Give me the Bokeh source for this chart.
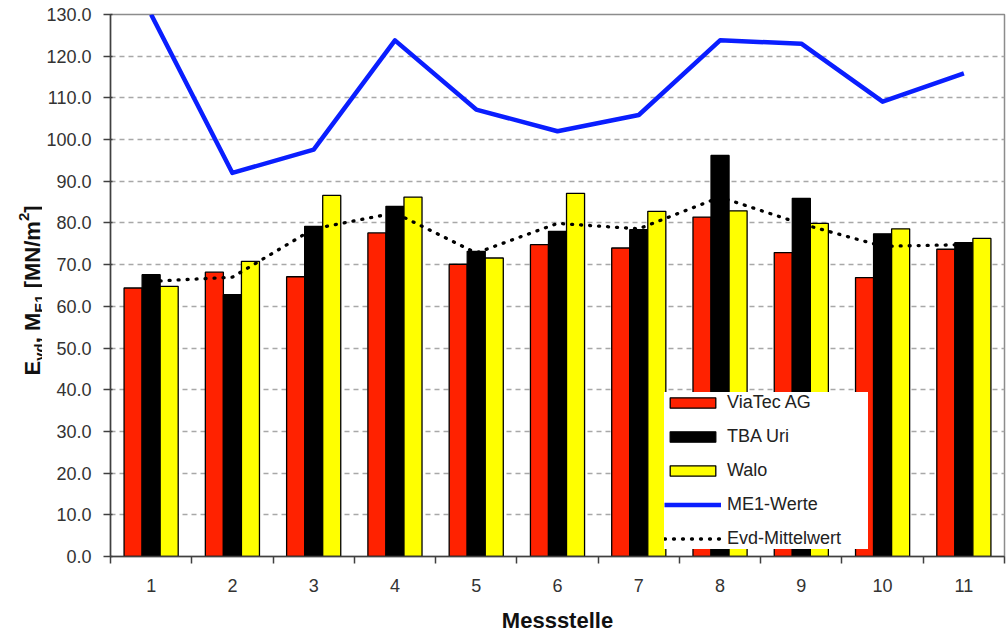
import math

from bokeh.core.properties import value
from bokeh.embed import file_html
from bokeh.layouts import row
from bokeh.models import (ColumnDataSource, FixedTicker, Legend, LegendItem,
                          NumeralTickFormatter, Range1d)
from bokeh.plotting import figure
from bokeh.resources import INLINE
from bokeh.transform import dodge

# Messstellen 1..11
messstellen = [1, 2, 3, 4, 5, 6, 7, 8, 9, 10, 11]
tick_labels = ["1", "2", "3", "4", "5", "6", "7", "8", "9", "10", "11"]

# Evd values per firm [MN/m2]
viatec = [64.4, 68.2, 67.1, 77.6, 70.1, 74.8, 74.0, 81.4, 72.9, 66.9, 73.7]
tba_uri = [67.6, 62.8, 79.2, 84.0, 73.2, 78.0, 78.4, 96.2, 85.9, 77.4, 75.3]
walo = [64.8, 70.8, 86.6, 86.2, 71.6, 87.1, 82.8, 82.9, 79.9, 78.6, 76.3]

# ME1 values and Evd mean
me1_werte = [130.0, 92.0, 97.6, 123.8, 107.2, 102.0, 105.9, 123.8, 123.0, 109.1, 115.9]
evd_mittel = [66.0, 67.0, 78.6, 82.4, 72.8, 79.9, 78.6, 86.2, 79.8, 74.4, 74.8]

y_ticks = [0, 10, 20, 30, 40, 50, 60, 70, 80, 90, 100, 110, 120, 130]

FONT = "Liberation Sans"
AXIS_DARK = "#404040"

W, H = 1006, 636
TITLE_W = 42                      # strip holding the rotated y axis title
LEFT, RIGHT, TOP, BOTTOM = 110 - TITLE_W, 2, 14, 80

p = figure(width=W - TITLE_W, height=H, output_backend="svg", toolbar_location=None,
           x_range=Range1d(0.5, 11.5), y_range=Range1d(0, 130),
           min_border_left=LEFT, min_border_right=RIGHT,
           min_border_top=TOP, min_border_bottom=BOTTOM)
p.background_fill_color = "white"
p.border_fill_color = "white"
p.outline_line_color = "#8c8c8c"
p.outline_line_width = 1.5

src = ColumnDataSource(dict(x=messstellen, viatec=viatec, tba=tba_uri, walo=walo,
                            me1=me1_werte, evd=evd_mittel))

bw = 0.222
r_via = p.vbar(x=dodge("x", -bw, range=p.x_range), top="viatec", bottom=0, width=bw,
               source=src, fill_color="#ff2200", line_color="black", line_width=1.3)
r_tba = p.vbar(x="x", top="tba", bottom=0, width=bw, source=src,
               fill_color="black", line_color="black", line_width=1.3)
r_walo = p.vbar(x=dodge("x", bw, range=p.x_range), top="walo", bottom=0, width=bw,
                source=src, fill_color="#ffff00", line_color="black", line_width=1.3)

r_evd = p.line("x", "evd", source=src, line_color="black", line_width=3.3,
               line_dash="1 8", line_cap="round")
r_me1 = p.line("x", "me1", source=src, line_color="#0a1eff", line_width=4.5,
               line_join="round")

# x axis: labels at the centres, ticks between the groups
p.xaxis.ticker = FixedTicker(ticks=messstellen,
                             minor_ticks=[m - 0.5 for m in messstellen] + [11.5])
p.xaxis.major_label_overrides = {m: t for m, t in zip(messstellen, tick_labels)}
p.xaxis.major_tick_line_color = None
p.xaxis.major_tick_out = 7
p.xaxis.major_tick_in = 0
p.xaxis.minor_tick_out = 7
p.xaxis.minor_tick_in = 0
p.xaxis.minor_tick_line_color = AXIS_DARK
p.xaxis.minor_tick_line_width = 1.5
p.xaxis.axis_line_color = AXIS_DARK
p.xaxis.axis_line_width = 1.5
p.xaxis.major_label_text_font = FONT
p.xaxis.major_label_text_font_size = "18px"
p.xaxis.major_label_text_color = "#333333"
p.xaxis.major_label_standoff = 15
p.xaxis.axis_label = "Messstelle"
p.xaxis.axis_label_text_font = FONT
p.xaxis.axis_label_text_font_size = "22px"
p.xaxis.axis_label_text_font_style = "bold"
p.xaxis.axis_label_text_color = "#111111"
p.xaxis.axis_label_standoff = 13

# y axis
p.yaxis.ticker = FixedTicker(ticks=y_ticks)
p.yaxis.formatter = NumeralTickFormatter(format="0.0")
p.yaxis.major_tick_out = 7
p.yaxis.major_tick_in = 2
p.yaxis.major_tick_line_color = AXIS_DARK
p.yaxis.major_tick_line_width = 1.5
p.yaxis.minor_tick_line_color = None
p.yaxis.axis_line_color = AXIS_DARK
p.yaxis.axis_line_width = 1.5
p.yaxis.major_label_text_font = FONT
p.yaxis.major_label_text_font_size = "18px"
p.yaxis.major_label_text_color = "#333333"
p.yaxis.major_label_standoff = 12

p.xgrid.visible = False
p.ygrid.grid_line_color = "#a8a8a8"
p.ygrid.grid_line_width = 1.5
p.ygrid.grid_line_dash = "5 4"

# legend
legend = Legend(items=[
    LegendItem(label="ViaTec AG", renderers=[r_via]),
    LegendItem(label="TBA Uri", renderers=[r_tba]),
    LegendItem(label="Walo", renderers=[r_walo]),
    LegendItem(label="ME1-Werte", renderers=[r_me1]),
    LegendItem(label="Evd-Mittelwert", renderers=[r_evd]),
], location=(554, 7))
legend.border_line_color = None
legend.background_fill_color = "white"
legend.background_fill_alpha = 1.0
legend.padding = 8
legend.margin = 0
legend.spacing = 13
legend.glyph_width = 57
legend.glyph_height = 13
legend.label_height = 21
legend.label_width = 141
legend.label_standoff = 6
legend.label_text_font = FONT
legend.label_text_font_size = "18px"
legend.label_text_color = "#222222"
p.add_layout(legend)

# y axis title with sub- and superscripts, laid out as rotated pieces in a
# narrow strip; its frame lines up with the main frame and one data unit is
# one pixel (y measured from the top of the page)
t = figure(width=TITLE_W, height=H, output_backend="svg", toolbar_location=None,
           x_range=Range1d(0, TITLE_W), y_range=Range1d(BOTTOM, H - TOP),
           x_axis_location=None, y_axis_location=None,
           min_border_left=0, min_border_right=0,
           min_border_top=TOP, min_border_bottom=BOTTOM)
t.grid.visible = False
t.outline_line_color = None
t.background_fill_color = "white"
t.border_fill_color = "white"

BOLD_WIDTHS = {"E": 0.667, "v": 0.556, "d": 0.611, ",": 0.278, " ": 0.278, "M": 0.833,
               "1": 0.556, "[": 0.333, "N": 0.722, "/": 0.278, "m": 0.889, "2": 0.556,
               "]": 0.333}
MAIN_SIZE, SMALL_SIZE = 22, 15
title_parts = [("E", "main"), ("vd", "sub"), (", M", "main"), ("E1", "sub"),
               (" [MN/m", "main"), ("2", "sup"), ("]", "main")]
baseline_x = {"main": 32, "sub": 39, "sup": 23}   # x of each baseline
start_y = 375                                      # y (from top) where the title begins

y_pos = start_y
for text, kind in title_parts:
    size = MAIN_SIZE if kind == "main" else SMALL_SIZE
    # leading blanks are not drawn by the svg text, so step over them here
    drawn = text.lstrip(" ")
    y_pos -= (len(text) - len(drawn)) * BOLD_WIDTHS[" "] * size
    t.text(x=[baseline_x[kind]], y=[H - y_pos], text=[drawn], angle=math.pi / 2,
           text_font=value(FONT), text_font_size=value(f"{size}px"),
           text_font_style="bold", text_color="#111111", text_align="left",
           text_baseline="alphabetic")
    y_pos -= sum(BOLD_WIDTHS[c] for c in drawn) * size

layout = row(t, p, spacing=0)
open("out.html", "w").write(file_html(layout, INLINE))
